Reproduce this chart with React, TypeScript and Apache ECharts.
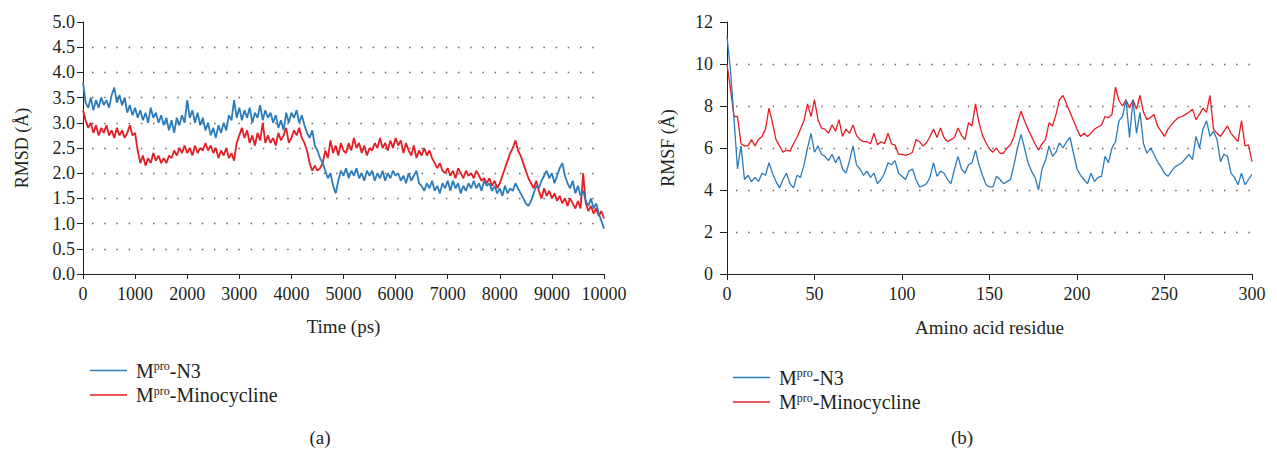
import React, { useEffect, useRef } from 'react';
import * as echarts from 'echarts';

const FONT = '"Liberation Serif", "DejaVu Serif", serif';
const TEXT = '#231f20';
const BLUE = '#2c7bbb';
const RED = '#e41e25';
const GRID = '#666666';

// (a) RMSD, sampled every 50 ps from 0 to 10000 ps
const rmsdTimeStep = 50;
const rmsdN3 = [
  3.8, 3.4, 3.3, 3.5, 3.25, 3.45, 3.3, 3.5, 3.35, 3.45, 3.3,
  3.55, 3.7, 3.4, 3.55, 3.35, 3.5, 3.2, 3.35, 3.15, 3.3,
  3.1, 3.25, 3.05, 3.2, 3.0, 3.3, 3.1, 3.2, 3.0, 3.15,
  2.95, 3.1, 2.85, 3.05, 2.8, 3.1, 2.95, 3.15, 3.0, 3.45,
  3.1, 3.25, 3.0, 3.2, 2.95, 3.1, 2.85, 3.0, 2.75, 2.9,
  2.7, 2.95, 2.8, 3.0, 2.85, 3.15, 3.05, 3.45, 3.1, 3.3,
  3.05, 3.25, 3.1, 3.3, 3.0, 3.2, 3.1, 3.35, 3.05, 3.25,
  3.1, 3.2, 3.0, 3.15, 2.9, 3.05, 2.85, 3.2, 3.0, 3.2,
  3.1, 3.25, 3.0, 3.15, 2.95, 2.8, 2.7, 2.85, 2.55, 2.45,
  2.3, 2.2, 2.05, 1.9, 2.0, 1.75, 1.6, 1.85, 2.05, 1.95,
  2.1, 1.9, 2.05, 1.95, 2.1, 1.9, 2.0, 1.85, 2.05, 1.95,
  2.05, 1.85, 2.0, 1.9, 2.05, 1.85, 2.0, 1.9, 2.05, 1.95,
  2.0, 1.85, 1.95, 1.8, 2.0, 1.85, 1.95, 2.05, 1.8, 1.75,
  1.65, 1.8, 1.7, 1.85, 1.65, 1.75, 1.6, 1.8, 1.7, 1.85,
  1.65, 1.85, 1.7, 1.8, 1.6, 1.75, 1.65, 1.8, 1.7, 1.85,
  1.7, 1.8, 1.65, 1.85, 1.75, 1.8, 1.65, 1.75, 1.6, 1.7,
  1.55, 1.75, 1.6, 1.7, 1.65, 1.8, 1.7, 1.6, 1.5, 1.4,
  1.35, 1.45, 1.6, 1.75, 1.7, 1.85, 1.95, 2.05, 1.9, 2.0,
  1.8, 1.95, 2.1, 2.2, 1.95, 1.8, 1.7, 1.85, 1.6, 1.75,
  1.55, 1.65, 1.45, 1.35, 1.5, 1.3, 1.4, 1.2, 1.05, 0.9,
];
const rmsdMino = [
  3.25, 3.05, 2.9, 3.0, 2.8, 2.95, 2.75, 2.9, 2.8, 2.95, 2.75,
  2.85, 2.7, 2.9, 2.75, 2.85, 2.7, 2.8, 2.95, 2.75, 2.8,
  2.45, 2.2, 2.35, 2.15, 2.3, 2.2, 2.4, 2.25, 2.35, 2.2,
  2.3, 2.2, 2.35, 2.3, 2.45, 2.35, 2.5, 2.4, 2.55, 2.4,
  2.5, 2.35, 2.55, 2.4, 2.5, 2.45, 2.6, 2.45, 2.55, 2.4,
  2.5, 2.3, 2.45, 2.35, 2.5, 2.3, 2.4, 2.25, 2.6, 2.75,
  2.9, 2.7, 2.85, 2.6, 2.75, 2.55, 2.8, 2.65, 3.0, 2.6,
  2.75, 2.6, 2.7, 2.55, 2.8, 2.65, 2.75, 2.9, 2.6, 2.7,
  2.85, 2.75, 2.9, 2.7, 2.6, 2.45, 2.2, 2.05, 2.15, 2.05,
  2.1, 2.2, 2.45, 2.3, 2.65, 2.4, 2.55, 2.35, 2.6, 2.45,
  2.4, 2.6, 2.45, 2.7, 2.5, 2.6, 2.4, 2.55, 2.35, 2.5,
  2.45, 2.6, 2.5, 2.7, 2.5, 2.6, 2.45, 2.65, 2.5, 2.7,
  2.55, 2.65, 2.4, 2.6, 2.45, 2.35, 2.55, 2.3, 2.45, 2.35,
  2.5, 2.35, 2.45, 2.3, 2.2, 2.1, 2.2, 2.05, 2.0, 2.1,
  1.95, 2.05, 1.9, 2.1, 2.0, 1.9, 2.05, 1.95, 2.0, 1.9,
  2.05, 1.95, 1.85, 1.9, 1.8, 1.9, 1.75, 1.85, 1.7, 1.8,
  1.95, 2.1, 2.25, 2.4, 2.5, 2.65, 2.45, 2.35, 2.2, 2.05,
  1.9, 1.8, 1.7, 1.85, 1.65, 1.5, 1.7, 1.55, 1.65, 1.5,
  1.6, 1.45, 1.55, 1.4, 1.5, 1.35, 1.5, 1.4, 1.3, 1.45,
  1.3, 2.0, 1.4, 1.25, 1.35, 1.2, 1.3, 1.15, 1.25, 1.1,
];

// (b) RMSF, every 2nd residue from 0 to 300
const rmsfResidueStep = 2;
const rmsfN3 = [
  11.3, 9.7, 7.4, 5.0, 6.1, 4.5, 4.7, 4.4, 4.6, 4.4,
  4.8, 4.7, 5.3, 4.8, 4.4, 4.1, 4.5, 4.8, 4.3, 4.1,
  4.7, 4.6, 5.2, 6.0, 6.7, 5.8, 6.1, 5.7, 5.6, 5.4,
  5.7, 5.3, 5.6, 5.0, 4.8, 5.4, 6.1, 5.2, 5.0, 4.7,
  4.9, 4.6, 4.8, 4.3, 4.5, 4.8, 5.3, 5.2, 5.4, 4.8,
  4.65, 4.5, 4.9, 5.0, 4.5, 4.15, 4.2, 4.3, 4.6, 5.3,
  4.65, 4.9, 4.8, 4.5, 4.3, 5.0, 5.6, 5.0, 4.8, 5.2,
  5.3, 5.9, 5.2, 4.7, 4.25, 4.15, 4.15, 4.65, 4.5, 4.3,
  4.4, 4.5, 5.2, 6.0, 6.65, 6.0, 5.3, 4.9, 4.6, 4.0,
  5.0, 5.4, 6.1, 5.6, 5.8, 6.25, 6.0, 6.3, 6.5, 5.75,
  5.0, 4.7, 4.5, 4.3, 4.8, 4.4, 4.6, 4.65, 5.6, 5.3,
  6.0, 6.3, 7.3, 7.5, 8.3, 6.5, 8.3, 6.7, 7.7, 6.2,
  5.75, 6.0, 5.7, 5.35, 5.1, 4.8, 4.65, 4.9, 5.1, 5.2,
  5.3, 5.5, 5.7, 5.45, 6.55, 6.0, 6.9, 7.3, 6.55, 6.8,
  6.4, 5.35, 5.7, 5.6, 4.8, 4.6, 4.25, 4.8, 4.25, 4.5,
  4.75,
];
const rmsfMino = [
  10.0, 8.8, 7.5, 7.5, 6.2, 6.1, 6.1, 6.4, 6.1, 6.4,
  6.55, 6.9, 7.9, 7.2, 6.4, 6.1, 5.8, 5.9, 5.85, 6.2,
  6.5, 6.9, 7.3, 8.1, 7.5, 8.3, 7.35, 6.95, 6.9, 6.7,
  7.1, 6.8, 7.35, 6.55, 6.9, 6.7, 7.1, 6.6, 6.4, 6.3,
  6.3, 6.2, 6.7, 6.15, 6.3, 6.2, 6.7, 6.2, 6.15, 5.7,
  5.7, 5.65, 5.7, 5.8, 6.4, 6.3, 6.1, 6.25, 6.55, 6.9,
  6.5, 6.95, 6.5, 6.3, 6.4, 6.5, 6.95, 6.6, 6.4, 7.2,
  7.05, 8.1, 7.2, 6.6, 6.25, 5.95, 5.8, 6.0, 5.75, 5.75,
  6.0, 6.15, 6.55, 7.2, 7.75, 7.3, 6.9, 6.55, 6.2, 5.9,
  6.2, 6.4, 7.2, 7.05, 7.6, 8.3, 8.5, 8.1, 7.7, 7.3,
  6.9, 6.55, 6.7, 6.55, 6.7, 6.9, 7.0, 7.1, 7.5, 7.45,
  7.6, 8.9, 8.25, 8.0, 8.3, 7.9, 8.3, 7.85, 8.5, 7.7,
  7.35, 7.45, 7.6, 7.05, 6.8, 6.55, 6.9, 7.1, 7.3, 7.45,
  7.5, 7.6, 7.7, 7.85, 7.35, 7.6, 7.9, 7.7, 8.5, 6.9,
  6.7, 6.55, 6.8, 7.05, 6.7, 6.5, 6.3, 7.3, 6.1, 6.15,
  5.35,
];

const seriesNames = ['N3', 'Minocycline'];
const legendSuffix: Record<string, string> = { N3: '-N3', Minocycline: '-Minocycline' };

export default function App() {
  const ref = useRef<HTMLDivElement>(null);

  useEffect(() => {
    if (!ref.current) return;
    const chart = echarts.init(ref.current, undefined, { renderer: 'svg' });

    const axisLine = { show: true, lineStyle: { color: TEXT, width: 1 } };
    const labelStyle = { fontFamily: FONT, fontSize: 18, color: TEXT };
    const nameStyle = { fontFamily: FONT, fontSize: 19, color: TEXT };
    const splitLine = {
      show: true,
      showMinLine: false,
      showMaxLine: false,
      lineStyle: { color: GRID, width: 1.3, type: [1.5, 10.7] as any, dashOffset: -9 },
    };

    const legendCommon = {
      orient: 'vertical' as const,
      data: seriesNames,
      icon: 'rect',
      itemWidth: 37,
      itemHeight: 1.5,
      itemGap: 4,
      selectedMode: false,
      formatter: (name: string) => `{m|M}{s|pro}{m|${legendSuffix[name]}}`,
      textStyle: {
        color: TEXT,
        fontFamily: FONT,
        fontSize: 20,
        padding: [0, 0, 0, 4],
        rich: {
          m: { fontFamily: FONT, fontSize: 20, color: TEXT, lineHeight: 21 },
          s: { fontFamily: FONT, fontSize: 12, color: TEXT, lineHeight: 14, verticalAlign: 'top' },
        },
      },
    };

    const option: any = {
      animation: false,
      backgroundColor: '#ffffff',
      grid: [
        { left: 83, top: 22, width: 521, height: 252 },
        { left: 727, top: 22, width: 525, height: 252 },
      ],
      xAxis: [
        {
          gridIndex: 0,
          type: 'value',
          min: 0,
          max: 10000,
          interval: 1000,
          axisLine,
          axisTick: { show: true, length: 5, lineStyle: { color: TEXT } },
          axisLabel: { ...labelStyle, margin: 11, formatter: (v: number) => String(v) },
          splitLine: { show: false },
          name: 'Time (ps)',
          nameLocation: 'middle',
          nameGap: 43,
          nameTextStyle: nameStyle,
        },
        {
          gridIndex: 1,
          type: 'value',
          min: 0,
          max: 300,
          interval: 50,
          axisLine,
          axisTick: { show: true, length: 6, lineStyle: { color: TEXT } },
          axisLabel: { ...labelStyle, margin: 11, formatter: (v: number) => String(v) },
          splitLine: { show: false },
          name: 'Amino acid residue',
          nameLocation: 'middle',
          nameGap: 44,
          nameTextStyle: nameStyle,
        },
      ],
      yAxis: [
        {
          gridIndex: 0,
          type: 'value',
          min: 0,
          max: 5,
          interval: 0.5,
          axisLine,
          axisTick: { show: true, length: 6, lineStyle: { color: TEXT } },
          axisLabel: { ...labelStyle, margin: 8, formatter: (v: number) => v.toFixed(1) },
          splitLine,
          name: 'RMSD (Å)',
          nameLocation: 'middle',
          nameGap: 52,
          nameTextStyle: { ...nameStyle, fontSize: 18 },
        },
        {
          gridIndex: 1,
          type: 'value',
          min: 0,
          max: 12,
          interval: 2,
          axisLine,
          axisTick: { show: true, length: 7, lineStyle: { color: TEXT } },
          axisLabel: { ...labelStyle, margin: 14 },
          splitLine,
          name: 'RMSF (Å)',
          nameLocation: 'middle',
          nameGap: 50,
          nameTextStyle: { ...nameStyle, fontSize: 18 },
        },
      ],
      legend: [
        { ...legendCommon, left: 85, top: 355 },
        { ...legendCommon, left: 728, top: 362 },
      ],
      series: [
        {
          name: 'Minocycline',
          type: 'line',
          xAxisIndex: 0,
          yAxisIndex: 0,
          color: RED,
          showSymbol: false,
          lineStyle: { width: 1.8, color: RED },
          data: rmsdMino.map((v, i) => [i * rmsdTimeStep, v]),
        },
        {
          name: 'N3',
          type: 'line',
          xAxisIndex: 0,
          yAxisIndex: 0,
          color: BLUE,
          showSymbol: false,
          lineStyle: { width: 1.8, color: BLUE },
          data: rmsdN3.map((v, i) => [i * rmsdTimeStep, v]),
        },
        {
          name: 'Minocycline',
          type: 'line',
          xAxisIndex: 1,
          yAxisIndex: 1,
          color: RED,
          showSymbol: false,
          lineStyle: { width: 1.3, color: RED },
          data: rmsfMino.map((v, i) => [i * rmsfResidueStep, v]),
        },
        {
          name: 'N3',
          type: 'line',
          xAxisIndex: 1,
          yAxisIndex: 1,
          color: BLUE,
          showSymbol: false,
          lineStyle: { width: 1.3, color: BLUE },
          data: rmsfN3.map((v, i) => [i * rmsfResidueStep, v]),
        },
      ],
      graphic: [
        {
          type: 'text',
          x: 320,
          y: 437,
          style: {
            text: '(a)',
            font: `19px ${FONT}`,
            fill: TEXT,
            align: 'center',
            verticalAlign: 'middle',
            textAlign: 'center',
            textVerticalAlign: 'middle',
          },
        },
        {
          type: 'text',
          x: 962,
          y: 437,
          style: {
            text: '(b)',
            font: `19px ${FONT}`,
            fill: TEXT,
            align: 'center',
            verticalAlign: 'middle',
            textAlign: 'center',
            textVerticalAlign: 'middle',
          },
        },
      ],
    };

    chart.setOption(option);
    return () => chart.dispose();
  }, []);

  return (
    <div
      ref={ref}
      style={{ position: 'fixed', left: 0, top: 0, width: 1277, height: 452, background: '#fff' }}
    />
  );
}
